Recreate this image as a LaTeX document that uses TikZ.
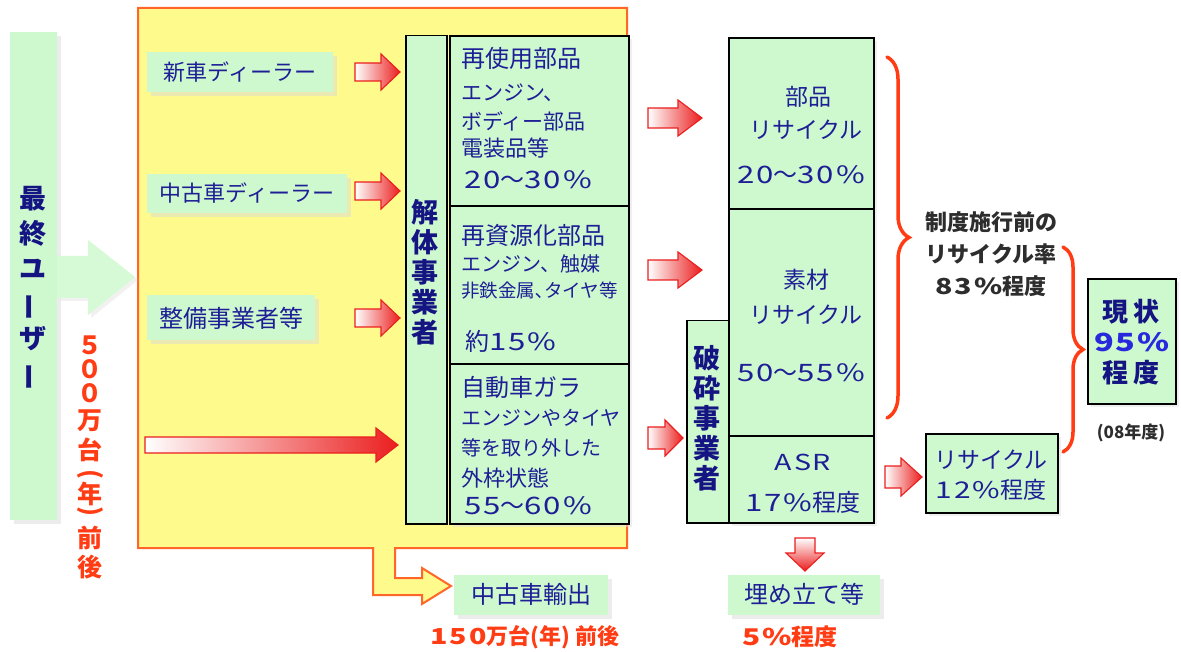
\documentclass[tikz,border=0pt]{standalone}
\usepackage{fontspec}
\usepackage{graphicx}
\setmainfont{Noto Sans CJK JP}
\usetikzlibrary{decorations.pathreplacing,shadows}
\definecolor{gbox}{RGB}{206,248,206}
\definecolor{gpale}{RGB}{214,250,214}
\definecolor{yel}{RGB}{255,250,140}
\definecolor{framec}{RGB}{255,102,40}
\definecolor{tblue}{RGB}{30,30,150}
\definecolor{dblue}{RGB}{20,20,130}
\definecolor{vblue}{RGB}{40,40,220}
\definecolor{redt}{RGB}{255,60,20}
\definecolor{arrred}{RGB}{235,30,30}
\definecolor{darkt}{RGB}{45,45,45}
\newcommand\myfs[2]{\fontsize{#1}{#2}\selectfont\lineskiplimit=-40pt\relax}
\newcommand\dg[1]{\scalebox{1.3}[1]{\addfontfeature{LetterSpace=6}#1}}
\newcommand\myharrow[6]{\path[rarr] (#1,{#3-#4}) -- ({#2-#6},{#3-#4}) -- ({#2-#6},{#3-#5}) -- (#2,#3) -- ({#2-#6},{#3+#5}) -- ({#2-#6},{#3+#4}) -- (#1,{#3+#4}) -- cycle;}
\begin{document}
\begin{tikzpicture}[x=1pt,y=-1pt,
  gfill/.style={fill=gbox,draw=none,inner sep=0,drop shadow={shadow xshift=4pt,shadow yshift=-4pt,fill=black!14}},
  bbox/.style={fill=gbox,draw=black,line width=2.2pt,inner sep=0,drop shadow={shadow xshift=3pt,shadow yshift=-3pt,fill=black!12}},
  tbox/.style={fill=gbox,draw=black,line width=1.5pt,inner sep=0},
  txt/.style={text=tblue,inner sep=0,font=\myfs{22}{26}},
  htxt/.style={text=tblue,inner sep=0,anchor=west,font=\myfs{24}{28}},
  stxt/.style={text=tblue,inner sep=0,anchor=west,font=\myfs{20}{24}},
  ptxt/.style={text=tblue,inner sep=0,anchor=west,font=\myfs{24}{28}},
  ctxt/.style={text=tblue,inner sep=0,font=\myfs{23}{28}},
  vtxt/.style={text=dblue,inner sep=0,align=center,font=\bfseries\myfs{27}{35}},
  vred/.style={text=redt,inner sep=0,font=\bfseries\myfs{25}{28}},
  redtxt/.style={text=redt,inner sep=0,font=\bfseries\myfs{22}{26}},
  rarr/.style={draw=arrred,line width=1.1pt,left color=white,right color=arrred},
  bracec/.style={draw=redt,line width=3.5pt,line cap=round,decorate},
]
\fill[white] (0,0) rectangle (1181,652);
\useasboundingbox (0,0) rectangle (1181,652);

% yellow frame with export arrow
\path[fill=yel,draw=framec,line width=2pt] (138,8) -- (627,8) -- (627,548) -- (395,548) -- (395,578) -- (422,578) -- (422,568) -- (451,586) -- (422,604) -- (422,595) -- (373,595) -- (373,548) -- (138,548) -- cycle;

% final user
\node[gfill,anchor=north west,minimum width=47,minimum height=488] (user) at (10,32) {};
\node[vtxt] (usertxt) at (33,288) {最\\終\\ユ\\\rotatebox[origin=c]{90}{ー}\\ザ\\\rotatebox[origin=c]{90}{ー}};
\path[fill=gpale,drop shadow={shadow xshift=3pt,shadow yshift=-3pt,fill=black!10}] (57,256) -- (88,256) -- (88,240) -- (135,277) -- (88,315) -- (88,298) -- (57,298) -- cycle;
\foreach \ch/\yy [count=\k] in {５/345,０/369,０/393,万/421,台/450,{\rotatebox[origin=c]{-90}{(}}/476,年/494,{\rotatebox[origin=c]{-90}{)}}/513,前/538,後/567}
  {\node[vred] (v\k) at (90,\yy) {\ch};}

% sources
\node[gfill,anchor=north west,minimum width=186,minimum height=40] (shinsha) at (147,52) {};
\node[txt] (shinshat) at (240,72) {新車ディーラー};
\node[gfill,anchor=north west,minimum width=200,minimum height=39] (chuko) at (147,174) {};
\node[txt] (chukot) at (247,193) {中古車ディーラー};
\node[gfill,anchor=north west,minimum width=168,minimum height=45] (seibi) at (147,295) {};
\node[txt,font=\myfs{24}{28}] (seibit) at (231,318) {整備事業者等};

% dismantler column
\node[tbox,anchor=north west,minimum width=41,minimum height=488] (kaitai) at (405,35) {};
\node[vtxt,font=\bfseries\myfs{27}{30}] (kaitait) at (425,272) {解\\体\\事\\業\\者};
\node[bbox,anchor=north west,minimum width=179,minimum height=170] (reuse) at (449,35) {};
\node[bbox,anchor=north west,minimum width=179,minimum height=158] (resrc) at (449,205) {};
\node[bbox,anchor=north west,minimum width=179,minimum height=160] (gara) at (449,363) {};
\node[htxt] (r1) at (461,58) {再使用部品};
\node[stxt,font=\myfs{21}{24}] (r2) at (461,93) {エンジン、};
\node[stxt,font=\myfs{21}{24}] (r3) at (461,121) {ボディー部品};
\node[stxt,font=\myfs{22}{24}] (r4) at (461,148) {電装品等};
\node[ptxt] (r5) at (464,180) {\dg{20}～\dg{30\%}};
\node[htxt] (s1) at (461,235) {再資源化部品};
\node[stxt] (s2) at (461,264) {エンジン、触媒};
\node[stxt,font=\myfs{18.5}{22}] (s3) at (461,291) {非鉄金属､タイヤ等};
\node[ptxt] (s4) at (465,341) {約\dg{15\%}};
\node[htxt] (g1) at (461,387) {自動車ガラ};
\node[stxt] (g2) at (461,418) {エンジンやタイヤ};
\node[stxt] (g3) at (461,448) {等を取り外した};
\node[stxt,font=\myfs{22}{24}] (g4) at (461,478) {外枠状態};
\node[ptxt] (g5) at (464,506) {\dg{55}～\dg{60\%}};

% shredder and recycling column
\node[tbox,anchor=north west,minimum width=42,minimum height=202] (hasai) at (686,320) {};
\node[vtxt,font=\bfseries\myfs{27}{30}] (hasait) at (707,418) {破\\砕\\事\\業\\者};
\node[bbox,anchor=north west,minimum width=145,minimum height=171] (buhin) at (728,37) {};
\node[bbox,anchor=north west,minimum width=145,minimum height=227] (sozai) at (728,208) {};
\node[bbox,anchor=north west,minimum width=145,minimum height=87] (asr) at (728,435) {};
\node[ctxt] (b1) at (808,97) {部品};
\node[ctxt] (b2) at (806,130) {リサイクル};
\node[ctxt,font=\myfs{24}{28}] (b3) at (801,175) {\dg{20}～\dg{30\%}};
\node[ctxt] (m1) at (806,280) {素材};
\node[ctxt] (m2) at (806,315) {リサイクル};
\node[ctxt,font=\myfs{24}{28}] (m3) at (801,373) {\dg{50}～\dg{55\%}};
\node[ctxt,font=\myfs{22}{26}] (a1) at (803,462) {\dg{ASR}};
\node[ctxt,font=\myfs{24}{28}] (a2) at (803,502) {\dg{17\%}程度};

% bottom boxes
\node[gfill,anchor=north west,minimum width=154,minimum height=40] (export) at (454,575) {};
\node[ctxt,font=\myfs{24}{28}] (exportt) at (531,594) {中古車輸出};
\node[redtxt] (n150) at (525,637) {\dg{150}万台(年) 前後};
\node[gfill,anchor=north west,minimum width=152,minimum height=40] (landfill) at (728,575) {};
\node[ctxt,font=\myfs{24}{28}] (landfillt) at (804,594) {埋め立て等};
\node[redtxt,font=\bfseries\myfs{23}{26}] (n5) at (790,637) {\dg{5\%}程度};

% recycle 12%
\node[bbox,anchor=north west,minimum width=132,minimum height=79] (rec12) at (925,433) {};
\node[ctxt,align=center,font=\myfs{23}{30}] (rec12t) at (991,475) {リサイクル\\\dg{12\%}程度};

% braces and rates
\draw[bracec,decoration={brace,amplitude=22pt}] (887,57) -- (887,418);
\node[text=darkt,inner sep=0,align=center,font=\bfseries\myfs{22}{32}] (pre) at (991,254) {制度施行前の\\リサイクル率\\\dg{83\%}程度};
\draw[bracec,decoration={brace,amplitude=20pt}] (1063,247) -- (1063,452);
\node[bbox,anchor=north west,minimum width=88,minimum height=125] (now) at (1087,278) {};
\node[text=dblue,inner sep=0,font=\bfseries\myfs{26}{30}] (now1) at (1131,312) {現\,状};
\node[text=vblue,inner sep=0,font=\bfseries\myfs{25}{30}] (now2) at (1132,342) {\dg{95\%}};
\node[text=dblue,inner sep=0,font=\bfseries\myfs{26}{30}] (now3) at (1131,373) {程\,度};
\node[text=darkt,inner sep=0,font=\bfseries\myfs{17}{20}] (fy) at (1131,433) {(08年度)};

% block arrows
\myharrow{355}{400}{72}{9}{18}{19}
\myharrow{355}{400}{191}{9}{18}{19}
\myharrow{355}{400}{318}{9}{18}{19}
\myharrow{145}{398}{445}{8}{17}{22}
\myharrow{648}{702}{118}{10}{18}{24}
\myharrow{648}{702}{270}{10}{18}{24}
\myharrow{648}{683}{438}{11}{18}{18}
\myharrow{885}{922}{477}{11}{19}{21}
\path[draw=arrred,line width=1.1pt,top color=white,bottom color=arrred] (795,538) -- (815,538) -- (815,553) -- (824,553) -- (805,571) -- (786,553) -- (795,553) -- cycle;
\end{tikzpicture}
\end{document}
